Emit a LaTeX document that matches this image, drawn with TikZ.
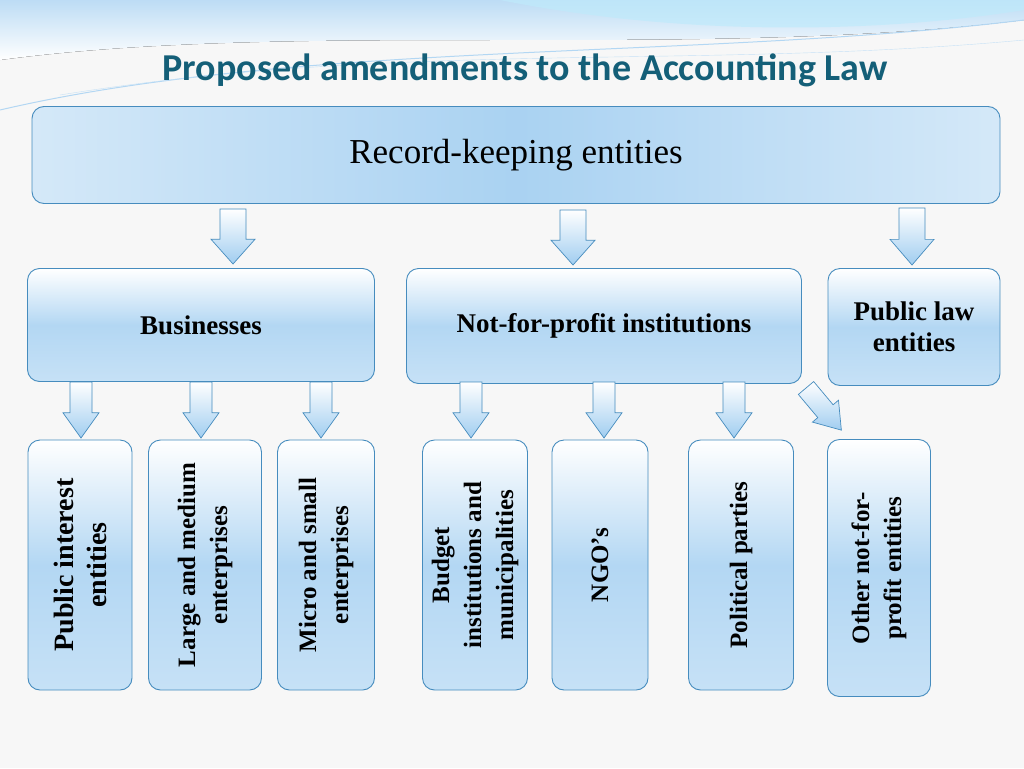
\documentclass[tikz,border=0pt]{standalone}
\usepackage{fontspec}
\setmainfont{Liberation Serif}
\newfontfamily\titlefont{Carlito}
\usetikzlibrary{positioning}
\definecolor{edgeblue}{RGB}{70,140,190}
\definecolor{boxblue}{RGB}{160,205,240}
\definecolor{titleteal}{RGB}{20,95,120}
\tikzset{
  box/.style={draw=edgeblue, line width=0.9pt, rounded corners=12pt, top color=white, bottom color=boxblue!60, middle color=boxblue!80, align=center},
  bigbox/.style={box, left color=boxblue!45, right color=boxblue!45, middle color=boxblue!90},
  arrowfill/.style={draw=edgeblue, line width=0.7pt, top color=white, bottom color=boxblue},
  vtext/.style={rotate=90, font=\fontsize{25}{32}\selectfont\bfseries, align=center},
  pics/blockarrow/.style args={#1/#2/#3}{code={
    % #1 length, #2 shaft width, #3 head width
    \path[arrowfill] (-#2/2,0) -- (#2/2,0) -- (#2/2,{#1*0.55}) -- (#3/2,{#1*0.55})
      -- (0,#1) -- (-#3/2,{#1*0.55}) -- (-#2/2,{#1*0.55}) -- cycle;
  }}
}
\begin{document}
\begin{tikzpicture}[x=1pt,y=-1pt]
\useasboundingbox (0,0) rectangle (1024,768);
\fill[gray!6] (0,0) rectangle (1024,768);
% top waves
\fill[top color=boxblue!70, bottom color=white] (0,0) -- (1024,0) -- (1024,20) .. controls (700,60) and (300,20) .. (0,60) -- cycle;
\fill[cyan!25, opacity=0.7] (500,0) .. controls (700,40) and (900,30) .. (1024,10) -- (1024,0) -- cycle;
\draw[boxblue!80, line width=1pt] (0,110) .. controls (300,40) and (700,60) .. (1024,20);
\draw[boxblue!60] (60,95) .. controls (400,40) and (700,70) .. (1024,40);
\node (title) [font=\titlefont\fontsize{38}{40}\selectfont\bfseries, text=titleteal] at (525,70) {Proposed amendments to the Accounting Law};

\node (rke) [bigbox, minimum width=968pt, minimum height=97pt, font=\fontsize{35}{38}\selectfont] at (516,155) {Record-keeping entities};

\node (bus) [box, minimum width=347pt, minimum height=113pt, font=\fontsize{27}{31}\selectfont\bfseries] at (201,325) {Businesses};
\node (npi) [box, minimum width=395pt, minimum height=115pt, font=\fontsize{27}{31}\selectfont\bfseries] at (604,326) {Not-for-profit institutions};
\node (pub) [box, minimum width=172pt, minimum height=117pt, font=\fontsize{27}{31}\selectfont\bfseries] at (914,327) {Public law\\entities};

\pic at (233,209) {blockarrow=55/26/44};
\pic at (573,210) {blockarrow=55/26/44};
\pic at (912,208) {blockarrow=57/26/44};

\foreach \x in {81,201,321,471,604,734}
  \pic at (\x,382) {blockarrow=56/22/36};
\pic[rotate=40] at (806,388) {blockarrow=55/20/34};

\node (pie) [box, minimum width=104pt, minimum height=250pt] at (80,565) {};
\node [vtext, font=\fontsize{28}{33}\selectfont\bfseries] at (pie) {Public interest\\entities};
\node (lme) [box, minimum width=113pt, minimum height=250pt] at (205,565) {};
\node [vtext] at (lme) {Large and medium\\enterprises};
\node (mse) [box, minimum width=97pt, minimum height=250pt] at (326,565) {};
\node [vtext] at (mse) {Micro and small\\enterprises};
\node (bim) [box, minimum width=105pt, minimum height=250pt] at (475,565) {};
\node [vtext] at (bim) {Budget\\institutions and\\municipalities};
\node (ngo) [box, minimum width=96pt, minimum height=250pt] at (600,565) {};
\node [vtext] at (ngo) {NGO’s};
\node (pp) [box, minimum width=105pt, minimum height=250pt] at (741,565) {};
\node [vtext] at (pp) {Political parties};
\node (onp) [box, minimum width=103pt, minimum height=257pt] at (879,568) {};
\node [vtext] at (onp) {Other not-for-\\profit entities};
\end{tikzpicture}
\end{document}
